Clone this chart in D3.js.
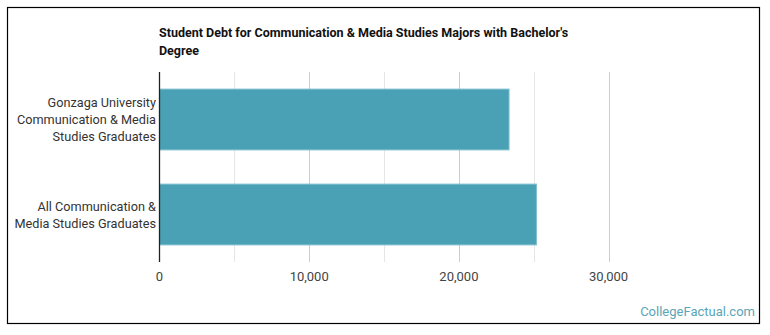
<!DOCTYPE html>
<html>
<head>
<meta charset="utf-8">
<script src="https://cdn.jsdelivr.net/npm/d3@7"></script>
<style>
  body { margin: 0; background: #fff; font-family: Roboto, "Noto Sans", sans-serif; }
</style>
</head>
<body>
<script>
var categories = [
  ["Gonzaga University", "Communication & Media", "Studies Graduates"],
  ["All Communication &", "Media Studies Graduates"]
];
var values = [23350, 25180];
var ticks = [0, 10000, 20000, 30000];
var gridTicks = [5000, 10000, 15000, 20000, 25000, 30000];

var w = 770, h = 335;
var margin = {left: 159.5, top: 72, bottom: 262};

var svg = d3.select('body')
  .append('svg')
  .attr('width', w)
  .attr('height', h);

// frame
svg.append('rect')
  .attr('x', 7.5).attr('y', 7.5)
  .attr('width', 752).attr('height', 316)
  .attr('fill', 'none')
  .attr('stroke', '#000')
  .attr('stroke-width', 1.2);

var x = d3.scaleLinear()
  .domain([0, 10000])
  .range([margin.left, margin.left + 149.7]);

var y = d3.scaleBand()
  .domain(d3.range(categories.length))
  .range([margin.top, margin.bottom])
  .paddingInner(0.36)
  .paddingOuter(0.18);

// gridlines
svg.append('g')
  .selectAll('line')
  .data(gridTicks)
  .enter()
  .append('line')
    .attr('x1', d => Math.round(x(d)) + 0.5)
    .attr('x2', d => Math.round(x(d)) + 0.5)
    .attr('y1', margin.top)
    .attr('y2', margin.bottom)
    .attr('stroke', d => d % 10000 === 0 ? '#cccccc' : '#e6e6e6')
    .attr('stroke-width', 1);

// bars
svg.selectAll('rect.bar')
  .data(values)
  .enter()
  .append('rect')
    .attr('class', 'bar')
    .attr('x', x(0))
    .attr('y', (d, i) => y(i))
    .attr('width', d => x(d) - x(0))
    .attr('height', y.bandwidth())
    .attr('fill', '#4aa0b4')
    .attr('stroke', '#7fc0cf')
    .attr('stroke-width', 1);

// baseline
svg.append('line')
  .attr('x1', margin.left).attr('x2', margin.left)
  .attr('y1', margin.top).attr('y2', margin.bottom)
  .attr('stroke', '#222')
  .attr('stroke-width', 1.3);

// x tick labels
svg.append('g')
  .selectAll('text')
  .data(ticks)
  .enter()
  .append('text')
    .attr('x', d => x(d))
    .attr('y', 281)
    .attr('text-anchor', 'middle')
    .style('font-size', '13px')
    .style('fill', '#444')
    .text(d => d3.format(',')(d));

// category labels
var lineH = 17;
svg.append('g')
  .selectAll('text')
  .data(categories)
  .enter()
  .append('text')
    .attr('text-anchor', 'end')
    .style('font-size', '12.7px')
    .style('fill', '#333')
    .each(function(lines, i) {
      var cy = y(i) + y.bandwidth() / 2;
      var start = cy - (lines.length - 1) * lineH / 2 + 4.5;
      d3.select(this).selectAll('tspan')
        .data(lines)
        .enter()
        .append('tspan')
          .attr('x', 156)
          .attr('y', (d, j) => start + j * lineH)
          .text(d => d);
    });

// title
var title = svg.append('text')
  .attr('x', 159)
  .style('font-size', '12.5px')
  .style('font-weight', 'bold')
  .style('fill', '#111');
title.append('tspan').attr('x', 159).attr('y', 37)
  .text("Student Debt for Communication & Media Studies Majors with Bachelor's");
title.append('tspan').attr('x', 159).attr('y', 55)
  .text('Degree');

// watermark
svg.append('text')
  .attr('x', 755)
  .attr('y', 316)
  .attr('text-anchor', 'end')
  .style('font-size', '13px')
  .style('fill', '#5aa5b8')
  .text('CollegeFactual.com');
</script>
</body>
</html>
